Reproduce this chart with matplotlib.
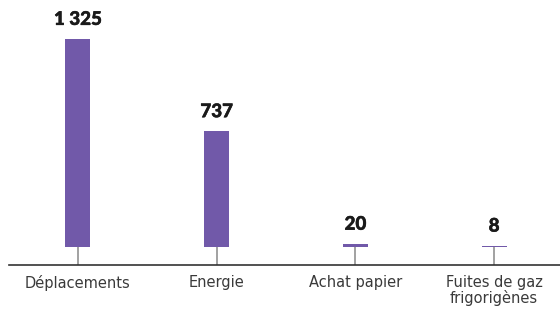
import matplotlib
matplotlib.use("Agg")
import matplotlib.pyplot as plt
import matplotlib.patheffects as pe

# data
categories = ["Déplacements", "Energie", "Achat papier", "Fuites de gaz\nfrigorigènes"]
values = [1325, 737, 20, 8]
value_labels = ["1 325", "737", "20", "8"]

bar_color = "#7159a9"

fig = plt.figure(figsize=(5.6, 3.11), dpi=100)
ax = fig.add_axes([0, 0, 1, 1])

x = list(range(len(categories)))
ax.bar(x, values, width=0.18, color=bar_color, zorder=3)

#slightly heavier numbers, like the reference
for xi, v, lab in zip(x, values, value_labels):
    ax.annotate(lab, (xi, v), xytext=(0, 8), textcoords="offset points",
                ha="center", va="bottom", fontsize=13.5, fontweight="black",
                family=["Lato", "DejaVu Sans"], color="#1a1a1a",
                path_effects=[pe.withStroke(linewidth=0.35, foreground="#1a1a1a")])

# pixel mapping: bars sit a bit above the axis line
ax.set_xlim(-0.562, 3.475)
ax.set_ylim(-407.7, 1573.4)

for s in ["top", "right", "left"]:
    ax.spines[s].set_visible(False)
ax.spines["bottom"].set_position(("data", -115))
ax.spines["bottom"].set_bounds(-0.5, 3.475)
ax.spines["bottom"].set_color("#333333")
ax.spines["bottom"].set_linewidth(1.2)

ax.set_yticks([])
ax.set_xticks(x)
ax.set_xticklabels(categories, fontsize=10.5, color="#3a3a3a", linespacing=1.05)
ax.tick_params(axis="x", direction="in", length=13, width=1.1, color="#888888", pad=7)

fig.savefig("out.png", dpi=100)
